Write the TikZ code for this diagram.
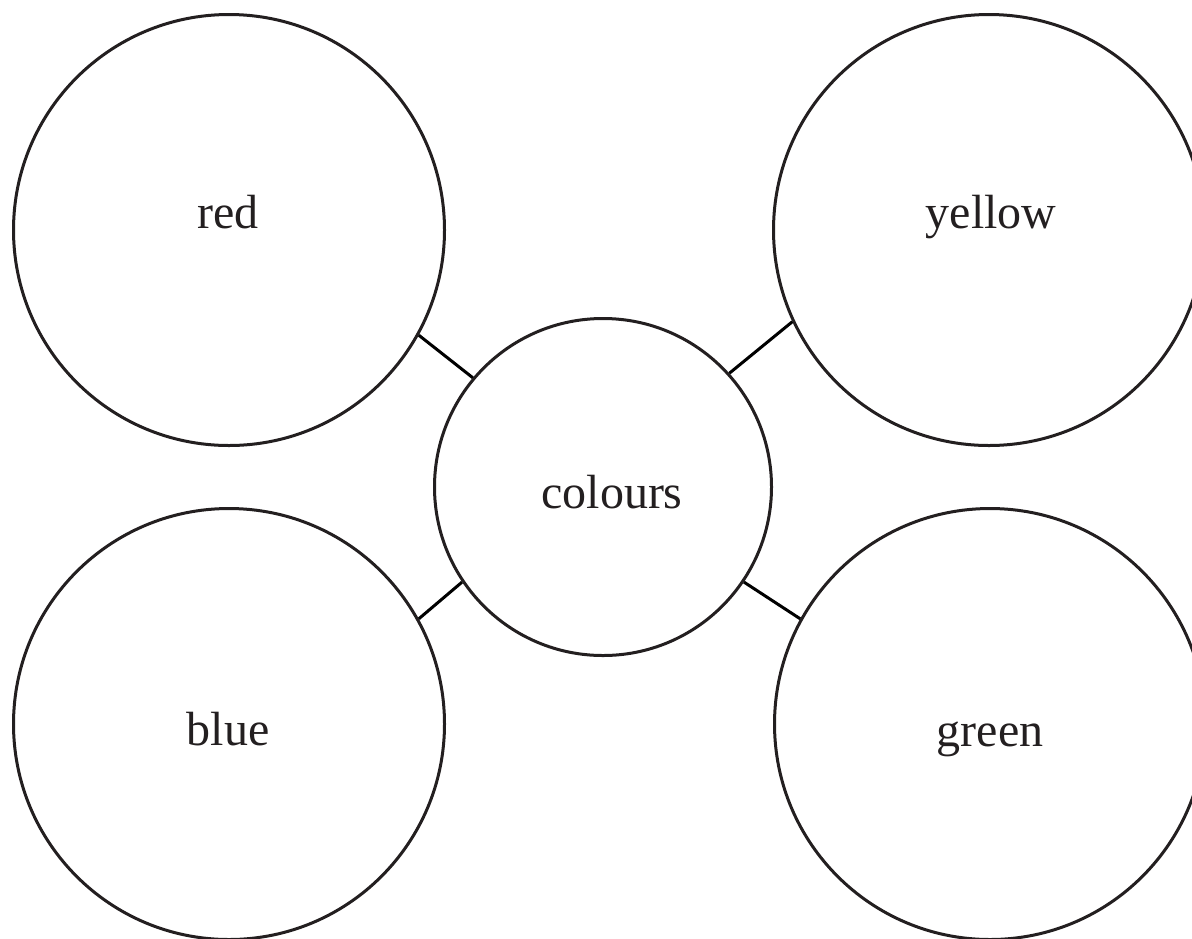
\documentclass[tikz,border=0pt]{standalone}
\usepackage{fontspec}
\setmainfont{Liberation Serif}
\definecolor{ink}{RGB}{35,31,32}
\begin{document}
\begin{tikzpicture}[x=0.5pt,y=-0.5pt,
  bigcirc/.style={circle,draw=ink,line width=1.5pt,inner sep=0pt,minimum size=215.5pt},
  midcirc/.style={circle,draw=ink,line width=1.5pt,inner sep=0pt,minimum size=168.5pt},
  lbl/.style={anchor=base,inner sep=0pt,text=ink,font=\fontsize{24pt}{28pt}\selectfont},
  conn/.style={draw=black,line width=1.5pt}]
\useasboundingbox (0,0) rectangle (1192,938);
\node[bigcirc] (red) at (229,230) {};
\node[bigcirc] (yellow) at (989,230) {};
\node[bigcirc] (blue) at (229,724) {};
\node[bigcirc] (green) at (990,724) {};
\node[midcirc] (colours) at (603,487) {};
\node[lbl] (tred) at (228,228) {red};
\node[lbl] (tyellow) at (991,228) {yellow};
\node[lbl] (tblue) at (228,745) {blue};
\node[lbl] (tgreen) at (990,746) {green};
\node[lbl] (tcolours) at (612,508) {colours};
\draw[conn] (red.-29.7) -- (colours.140);
\draw[conn] (yellow.205.4) -- (colours.42);
\draw[conn] (blue.29.1) -- (colours.214.4);
\draw[conn] (green.151.5) -- (colours.326);
\end{tikzpicture}
\end{document}
